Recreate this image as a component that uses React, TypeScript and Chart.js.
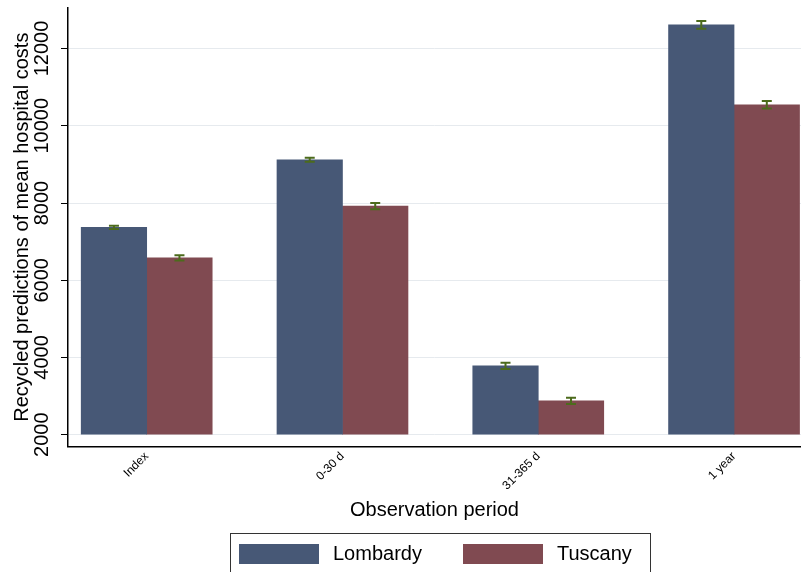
import React, { useEffect, useRef } from "react";
import { Chart, registerables } from "chart.js";

Chart.register(...registerables);

const categories = ["Index", "0-30 d", "31-365 d", "1 year"];
const lombardy = [7370, 9120, 3785, 12615];
const tuscany = [6580, 7920, 2875, 10545];
const lombardyErr = [40, 50, 80, 100];
const tuscanyErr = [70, 80, 80, 100];
const yTicks = [2000, 4000, 6000, 8000, 10000, 12000];
const seriesNames = ["Lombardy", "Tuscany"];

const FONT = "'Liberation Sans', Arial, Helvetica, sans-serif";
const BLUE = "#475876";
const RED = "#804a51";
const ERR = "#4c6b1c";

const errorBarPlugin = {
  id: "errorBars",
  afterDatasetsDraw(chart: any) {
    const ctx = chart.ctx;
    const y = chart.scales.y;
    chart.data.datasets.forEach((ds: any, i: number) => {
      const meta = chart.getDatasetMeta(i);
      meta.data.forEach((el: any, j: number) => {
        const v = ds.data[j].y;
        const e = ds.errors[j];
        const yl = y.getPixelForValue(v - e);
        const yh = y.getPixelForValue(v + e);
        ctx.save();
        ctx.strokeStyle = ERR;
        ctx.lineWidth = 2;
        ctx.beginPath();
        ctx.moveTo(el.x, yl);
        ctx.lineTo(el.x, yh);
        ctx.moveTo(el.x - 5, yl);
        ctx.lineTo(el.x + 5, yl);
        ctx.moveTo(el.x - 5, yh);
        ctx.lineTo(el.x + 5, yh);
        ctx.stroke();
        ctx.restore();
      });
    });
  },
};

const yLabelPlugin = {
  id: "yLabels",
  afterDraw(chart: any) {
    const ctx = chart.ctx;
    const y = chart.scales.y;
    ctx.save();
    ctx.fillStyle = "#000";
    ctx.font = `20px ${FONT}`;
    ctx.textAlign = "center";
    ctx.textBaseline = "middle";
    yTicks.forEach((t) => {
      const py = y.getPixelForValue(t);
      ctx.save();
      ctx.translate(y.right - 25.5, py);
      ctx.rotate(-Math.PI / 2);
      ctx.fillText(String(t), 0, 0);
      ctx.restore();
    });
    ctx.restore();
  },
};

const legendPlugin = {
  id: "boxLegend",
  afterDraw(chart: any) {
    const ctx = chart.ctx;
    const top = chart.scales.x.bottom + 1;
    const left = 230;
    const right = 650;
    ctx.save();
    ctx.strokeStyle = "#333";
    ctx.lineWidth = 1;
    ctx.strokeRect(left + 0.5, top + 0.5, right - left, 60);
    const items = [
      { name: seriesNames[0], color: BLUE, sx: 239, tx: 333 },
      { name: seriesNames[1], color: RED, sx: 463, tx: 557 },
    ];
    ctx.font = `20px ${FONT}`;
    ctx.textBaseline = "middle";
    ctx.textAlign = "left";
    items.forEach((it) => {
      ctx.fillStyle = it.color;
      ctx.fillRect(it.sx, top + 11, 80, 20);
      ctx.fillStyle = "#000";
      ctx.fillText(it.name, it.tx, top + 21);
    });
    ctx.restore();
  },
};

export default function App() {
  const ref = useRef<HTMLCanvasElement | null>(null);
  useEffect(() => {
    if (!ref.current) return;
    const chart = new Chart(ref.current, {
      type: "bar",
      data: {
        datasets: [
          {
            label: seriesNames[0],
            data: lombardy.map((v, i) => ({ x: i, y: v })),
            backgroundColor: BLUE,
            borderWidth: 0,
            base: 2000,
            errors: lombardyErr,
          } as any,
          {
            label: seriesNames[1],
            data: tuscany.map((v, i) => ({ x: i, y: v })),
            backgroundColor: RED,
            borderWidth: 0,
            base: 2000,
            errors: tuscanyErr,
          } as any,
        ],
      },
      options: {
        animation: false,
        responsive: true,
        maintainAspectRatio: false,
        barThickness: 65.5,
        layout: { padding: { top: 8, bottom: 40, left: 0, right: 0 } },
        plugins: { legend: { display: false }, tooltip: { enabled: false } },
        scales: {
          x: {
            type: "linear",
            offset: false,
            min: -0.402,
            max: 3.342,
            afterBuildTicks: (s: any) => {
              s.ticks = categories.map((_, i) => ({ value: i }));
            },
            ticks: {
              autoSkip: false,
              minRotation: 45,
              maxRotation: 45,
              padding: 3,
              color: "#000",
              font: { family: FONT, size: 12 },
              callback: (v: any) => categories[v as number] ?? "",
            },
            grid: {
              offset: false,
              drawOnChartArea: false,
              drawTicks: false,
            },
            border: { display: true, color: "#000", width: 1.5 },
            title: {
              display: true,
              text: "Observation period",
              color: "#000",
              font: { family: FONT, size: 20 },
              padding: { top: 2, bottom: 10 },
            },
          },
          y: {
            type: "linear",
            min: 1700,
            max: 13050,
            afterBuildTicks: (s: any) => {
              s.ticks = yTicks.map((v) => ({ value: v }));
            },
            ticks: { display: false },
            grid: {
              color: "#e6eaee",
              lineWidth: 1,
              drawTicks: true,
              tickLength: 7,
              tickColor: "#000",
            },
            border: { display: true, color: "#000", width: 1.5 },
            title: {
              display: true,
              text: "Recycled predictions of mean hospital costs",
              color: "#000",
              font: { family: FONT, size: 20 },
              padding: { top: 10, bottom: 27 },
            },
          },
        },
      } as any,
      plugins: [errorBarPlugin, yLabelPlugin, legendPlugin],
    });
    return () => chart.destroy();
  }, []);
  return (
    <div style={{ position: "absolute", left: 0, top: 0, width: 801, height: 572, background: "#fff" }}>
      <canvas ref={ref} />
    </div>
  );
}
